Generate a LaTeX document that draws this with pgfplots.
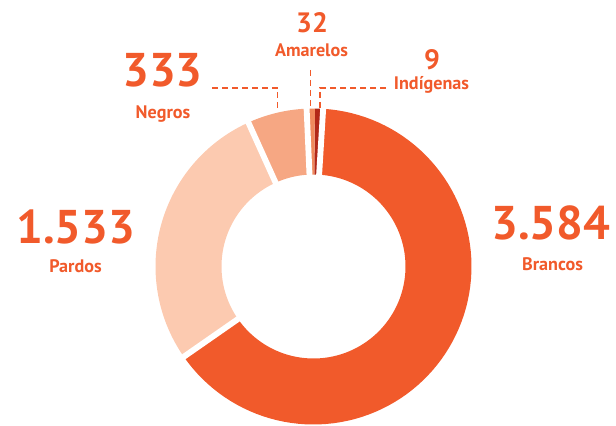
\documentclass[border=0pt]{standalone}
\usepackage{pgfplots}
\pgfplotsset{compat=1.18}
\usepackage{pgfplotstable}
\usepackage{fontspec}
\setmainfont{PT Sans}
\definecolor{cBr}{HTML}{F15A2B}
\definecolor{cPa}{HTML}{FCCAB0}
\definecolor{cNe}{HTML}{F6A783}
\definecolor{cAm}{HTML}{F08A5D}
\definecolor{cIn}{HTML}{B22818}
\definecolor{cT}{HTML}{F15A2B}
\pgfplotstableread{
name value
Indigenas 9
Amarelos 32
Negros 333
Pardos 1533
Brancos 3584
}\datatable
\newcommand\slice[3]{%
  \fill[#1] plot[domain=#2:#3,samples=90] ({313.5+158*cos(\x)},{158.5+158*sin(\x)})
    -- plot[domain=#3:#2,samples=90] ({313.5+92*cos(\x)},{158.5+92*sin(\x)}) -- cycle;}
\newcommand\sep[1]{%
  \draw[white,line width=4.4pt] ({313.5+86*cos(#1)},{158.5+86*sin(#1)}) -- ({313.5+164*cos(#1)},{158.5+164*sin(#1)});}
\begin{document}
\begin{tikzpicture}
\pgfplotstablegetelem{0}{value}\of\datatable \xdef\vIn{\pgfplotsretval}
\pgfplotstablegetelem{1}{value}\of\datatable \xdef\vAm{\pgfplotsretval}
\pgfplotstablegetelem{2}{value}\of\datatable \xdef\vNe{\pgfplotsretval}
\pgfplotstablegetelem{3}{value}\of\datatable \xdef\vPa{\pgfplotsretval}
\pgfplotstablegetelem{4}{value}\of\datatable \xdef\vBr{\pgfplotsretval}
\pgfmathsetmacro\tot{\vIn+\vAm+\vNe+\vPa+\vBr}
\pgfmathsetmacro\aIn{max((\vIn/\tot)*360,3)}
\pgfmathsetmacro\aAm{max((\vAm/\tot)*360,3)}
\pgfmathsetmacro\aNe{(\vNe/\tot)*360}
\pgfmathsetmacro\aPa{(\vPa/\tot)*360}
\pgfmathsetmacro\tA{86.5}
\pgfmathsetmacro\tB{\tA+\aIn}
\pgfmathsetmacro\tC{\tB+\aAm}
\pgfmathsetmacro\tD{\tC+\aNe}
\pgfmathsetmacro\tE{\tD+\aPa}
\pgfmathsetmacro\tF{\tA+360}
\begin{axis}[width=462pt,height=318.75pt,scale only axis,hide axis,
  xmin=0,xmax=616,ymin=0,ymax=425,enlargelimits=false,clip=false]
\path (axis cs:0,0) rectangle (axis cs:616,425);
\slice{cIn}{\tA}{\tB}
\slice{cAm}{\tB}{\tC}
\slice{cNe}{\tC}{\tD}
\slice{cPa}{\tD}{\tE}
\slice{cBr}{\tE}{\tF}
\sep{\tA}
\sep{\tC}
\sep{\tD}
\sep{\tE}
\addplot[draw=cT,line width=1pt,dash pattern=on 4.5pt off 3pt] coordinates {(212,337) (277.5,337) (277.5,313)};
\addplot[draw=cT,line width=1pt,dash pattern=on 4.5pt off 3pt] coordinates {(310.7,355) (310.7,316)};
\addplot[draw=cT,line width=1pt,dash pattern=on 4.5pt off 3pt] coordinates {(386,337) (320,337) (320,316)};
\node[anchor=base,text=cT,font=\bfseries\fontsize{35.5}{36}\selectfont] at (axis cs:551,186) {3.584};
\node[anchor=base,text=cT,font=\bfseries\fontsize{13.6}{14}\selectfont] at (axis cs:552.5,155) {Brancos};
\node[anchor=base,text=cT,font=\bfseries\fontsize{35.5}{36}\selectfont] at (axis cs:76,182) {1.533};
\node[anchor=base,text=cT,font=\bfseries\fontsize{13.6}{14}\selectfont] at (axis cs:75.5,153) {Pardos};
\node[anchor=base,text=cT,font=\bfseries\fontsize{35.5}{36}\selectfont] at (axis cs:162.5,338) {333};
\node[anchor=base,text=cT,font=\bfseries\fontsize{13.6}{14}\selectfont] at (axis cs:163,306) {Negros};
\node[anchor=base,text=cT,font=\bfseries\fontsize{21}{21}\selectfont] at (axis cs:312,392) {32};
\node[anchor=base,text=cT,font=\bfseries\fontsize{13.6}{14}\selectfont] at (axis cs:311.5,368) {Amarelos};
\node[anchor=base,text=cT,font=\bfseries\fontsize{21}{21}\selectfont] at (axis cs:432,355) {9};
\node[anchor=base,text=cT,font=\bfseries\fontsize{13.6}{14}\selectfont] at (axis cs:431.5,335) {Indígenas};
\end{axis}
\end{tikzpicture}
\end{document}
